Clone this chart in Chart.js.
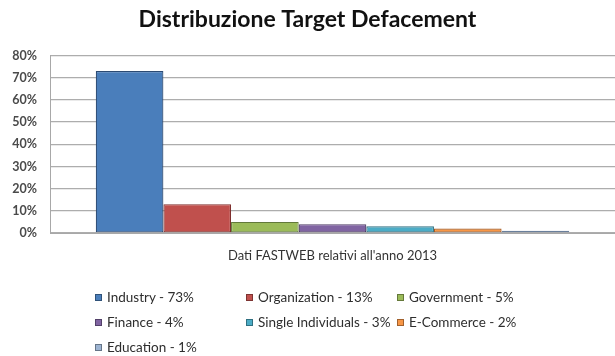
<!DOCTYPE html>
<html>
<head>
<meta charset="utf-8">
<script src="https://cdn.jsdelivr.net/npm/chart.js@4/dist/chart.umd.min.js"></script>
<style>
  html, body { margin: 0; padding: 0; background: #ffffff; }
  #wrap { position: relative; width: 615px; height: 356px; }
  #chart { position: absolute; left: 0; top: 0; }
  .leg { position: absolute; font-family: Lato, "Open Sans", sans-serif; font-size: 13.5px; color: #2e2e2e; white-space: nowrap; line-height: 15px; }
  .leg i { display: inline-block; width: 7px; height: 7px; margin-right: 5px; vertical-align: 1px; box-sizing: border-box; border: 1px solid rgba(0,0,0,0.35); }
</style>
</head>
<body>
<div id="wrap">
  <canvas id="chart" width="615" height="356"></canvas>
</div>
<script>
// Target categories and their share of defacements (percent)
const categories = ['Industry', 'Organization', 'Government', 'Finance', 'Single Individuals', 'E-Commerce', 'Education'];
const shares = [73, 13, 5, 4, 3, 2, 1];
const groupLabel = ["Dati FASTWEB relativi all'anno 2013"];
const yTicks = [0, 10, 20, 30, 40, 50, 60, 70, 80];

const fills = ['#4a7ebb', '#c0504d', '#9bbb59', '#8064a2', '#4bacc6', '#f79646', '#9db4d2'];
const edges = ['#2b4a73', '#7e2f2d', '#62793a', '#4f3d66', '#2f6f80', '#a85e25', '#6a7f9b'];

// Legend positions: three columns, three rows
const legendCols = [95, 246, 397];
const legendRows = [290, 315, 340];

const wrap = document.getElementById('wrap');
categories.forEach((name, i) => {
  const el = document.createElement('div');
  el.className = 'leg';
  el.style.left = legendCols[i % 3] + 'px';
  el.style.top = legendRows[Math.floor(i / 3)] + 'px';
  const box = document.createElement('i');
  box.style.background = fills[i];
  el.appendChild(box);
  el.appendChild(document.createTextNode(name + ' - ' + shares[i] + '%'));
  wrap.appendChild(el);
});

const datasets = categories.map((name, i) => ({
  label: name + ' - ' + shares[i] + '%',
  data: [shares[i]],
  backgroundColor: fills[i],
  borderColor: edges[i],
  borderWidth: 1.2,
  borderSkipped: false,
  categoryPercentage: 0.838,
  barPercentage: 1.0
}));

new Chart(document.getElementById('chart'), {
  type: 'bar',
  data: { labels: groupLabel, datasets },
  options: {
    responsive: false,
    animation: false,
    layout: { padding: { left: 0, right: 0, top: 0, bottom: 0 } },
    plugins: {
      legend: { display: false },
      tooltip: { enabled: false },
      title: {
        display: true,
        text: 'Distribuzione Target Defacement',
        color: '#111111',
        font: { family: 'Lato', size: 23, weight: 'bold' },
        padding: { top: 6, bottom: 22 }
      }
    },
    scales: {
      x: {
        grid: { display: false, drawTicks: false },
        border: { display: true, color: '#a8a8a8', width: 1 },
        ticks: { color: '#333333', padding: 15, font: { family: 'Lato', size: 13 } },
        afterFit: s => { s.height = 123; }
      },
      y: {
        min: 0,
        max: 80,
        afterBuildTicks: s => { s.ticks = yTicks.map(v => ({ value: v })); },
        grid: { color: '#adadad', lineWidth: 1.3, drawTicks: false },
        border: { display: true, color: '#a8a8a8', width: 1 },
        ticks: {
          color: '#4a4a4a',
          padding: 13,
          font: { family: 'Lato', size: 12.5, weight: 'bold' },
          callback: v => v + '%'
        },
        afterFit: s => { s.width = 50; }
      }
    }
  }
});
</script>
</body>
</html>
